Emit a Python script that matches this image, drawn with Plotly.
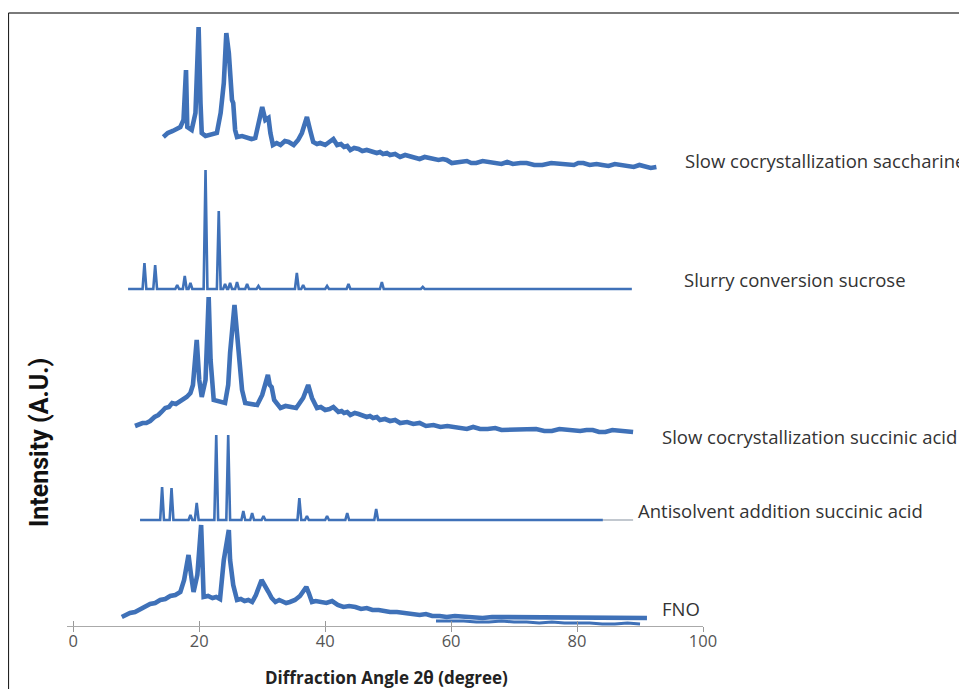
import plotly.graph_objects as go

# ---------------- data (2θ in degrees, intensity in arbitrary stacked units) ----------------
saccharine = [(14.3, 489), (15.0, 493), (15.8, 495), (16.5, 497), (17.0, 499), (17.5, 506), (17.9, 556),
              (18.1, 499), (18.5, 497), (18.8, 496), (19.4, 513), (19.9, 599), (20.2, 523), (20.4, 493),
              (21.0, 490), (21.7, 491), (22.3, 492), (22.8, 493), (23.4, 513), (23.9, 543), (24.3, 593),
              (24.7, 573), (25.2, 526), (25.4, 523), (25.7, 496), (26.0, 489), (26.8, 490), (27.6, 489),
              (28.3, 487), (28.9, 488), (29.6, 506), (30.0, 519), (30.5, 506), (31.0, 508), (31.3, 493),
              (31.7, 481), (32.3, 483), (32.9, 481), (33.6, 485), (34.2, 484), (35.0, 481), (35.7, 486),
              (36.3, 493), (37.1, 509), (37.6, 496), (38.1, 484), (38.7, 482), (39.2, 483), (40.0, 481),
              (40.8, 484), (41.3, 487), (41.9, 481), (42.5, 482), (43.0, 479), (43.5, 480), (44.0, 476),
              (44.6, 478), (45.3, 477), (45.9, 475), (46.6, 476), (47.4, 474), (48.2, 473), (48.7, 474),
              (49.2, 472), (49.8, 473), (50.3, 471), (51.1, 472), (51.9, 469), (52.7, 471), (53.5, 470),
              (54.2, 468), (55.0, 467), (55.8, 469), (56.5, 468), (57.2, 466), (58.0, 466), (58.7, 467),
              (59.3, 466), (60.1, 463), (60.9, 464), (61.7, 465), (62.5, 465), (63.2, 463), (64.0, 463),
              (65.0, 465), (66.0, 464), (67.0, 462), (68.0, 462), (68.9, 464), (69.8, 462), (71.0, 463),
              (72.0, 463), (73.2, 461), (74.5, 461), (75.9, 463), (77.3, 462), (78.4, 461), (79.5, 461),
              (80.2, 463), (81.0, 463), (82.0, 461), (83.1, 462), (84.0, 461), (85.0, 460), (86.0, 462),
              (87.0, 461), (88.0, 460), (89.0, 459), (89.9, 461), (90.8, 460), (91.7, 458), (92.6, 459)]

sucrose_range = (8.7, 88.7)
sucrose_base = 337
sucrose_pos = [11.3, 13.0, 16.5, 17.7, 18.6, 21.0, 23.1, 24.1, 24.9, 26.0, 27.6, 29.4, 35.5, 36.5, 40.3, 43.7, 49.0, 55.5]
sucrose_h = [26, 24, 4, 13, 6, 119, 78, 5, 6, 7, 5, 3, 16, 4, 3, 5, 7, 2]

succinic_slow = [(9.8, 200), (10.4, 202), (11.0, 203), (11.6, 203), (12.2, 205), (12.9, 209), (13.5, 211),
                 (14.0, 214), (14.6, 218), (15.2, 219), (15.7, 223), (16.3, 222), (17.0, 225), (17.5, 227),
                 (18.0, 229), (18.6, 233), (19.0, 241), (19.6, 286), (20.0, 246), (20.4, 229), (21.0, 246),
                 (21.5, 329), (21.8, 266), (22.3, 226), (23.2, 224), (24.1, 223), (24.6, 241), (24.9, 273),
                 (25.6, 321), (26.0, 296), (26.5, 258), (26.8, 236), (27.3, 223), (28.2, 222), (29.2, 221),
                 (30.0, 231), (30.9, 251), (31.2, 241), (31.5, 239), (31.9, 226), (32.9, 218), (33.7, 220),
                 (34.7, 219), (35.4, 218), (36.5, 228), (37.3, 241), (37.9, 228), (38.7, 218), (39.3, 219),
                 (40.0, 216), (40.7, 217), (41.3, 219), (42.1, 214), (42.6, 215), (43.0, 213), (43.5, 214),
                 (44.0, 211), (44.7, 213), (45.3, 212), (46.0, 210), (46.6, 209), (47.1, 210), (47.6, 208),
                 (48.2, 209), (48.7, 206), (49.5, 207), (50.3, 205), (51.1, 206), (51.9, 203), (53.0, 204),
                 (54.0, 202), (55.0, 203), (56.0, 200), (57.2, 201), (58.3, 199), (59.4, 200), (60.5, 199),
                 (61.5, 198), (62.5, 197), (63.5, 199), (64.6, 197), (65.8, 197), (67.0, 198), (68.0, 196),
                 (69.0, 196), (70.0, 197), (71.0, 196), (72.3, 196), (73.5, 197), (74.8, 195), (76.0, 195),
                 (77.2, 197), (78.5, 196), (79.5, 195), (80.5, 195), (81.5, 196), (82.5, 196), (83.5, 194),
                 (84.5, 194), (85.6, 196), (86.7, 195), (87.8, 194), (88.9, 194)]

anti_range = (10.6, 84.1)
anti_tail = (84.1, 88.9)
anti_base = 106
anti_pos = [14.1, 15.6, 18.6, 19.6, 22.7, 24.6, 27.0, 28.4, 30.2, 35.9, 37.1, 40.3, 43.5, 48.1]
anti_h = [33, 32, 5, 17, 85, 85, 9, 7, 4, 22, 4, 4, 7, 11]

fno = [(7.7, 9), (8.4, 11), (9.0, 13), (9.8, 14), (10.6, 17), (11.4, 19), (12.2, 22), (13.0, 23), (13.8, 26),
       (14.6, 27), (15.4, 30), (16.2, 31), (17.0, 34), (17.6, 46), (18.3, 71), (18.7, 51), (19.1, 34),
       (19.7, 51), (20.3, 101), (20.5, 66), (20.7, 29), (21.4, 30), (22.1, 28), (22.7, 29), (23.3, 27),
       (23.9, 66), (24.7, 96), (24.9, 66), (25.2, 48), (25.4, 41), (26.0, 26), (26.6, 27), (27.2, 25),
       (27.8, 26), (28.4, 24), (29.0, 31), (29.9, 46), (30.5, 38), (31.0, 34), (31.5, 28), (32.1, 24),
       (32.7, 26), (33.2, 25), (33.8, 23), (34.4, 24), (35.2, 26), (36.0, 30), (37.0, 39), (37.4, 33),
       (37.9, 24), (38.5, 25), (39.2, 24), (40.2, 23), (41.1, 25), (41.6, 22), (42.0, 21), (42.9, 19),
       (43.8, 20), (44.8, 19), (45.7, 17), (46.6, 18), (47.5, 16), (48.5, 16), (49.4, 15), (50.3, 14),
       (51.4, 14), (52.5, 13), (53.7, 12), (55.0, 11), (56.0, 12), (57.0, 10), (58.2, 10), (59.3, 9),
       (60.6, 10), (62.0, 9), (63.5, 9), (65.0, 8), (66.5, 9), (68.0, 9), (69.5, 8), (71.0, 8), (72.5, 9),
       (74.0, 8), (75.8, 8), (77.5, 9), (79.0, 8), (80.5, 8), (82.0, 9), (83.5, 9), (85.0, 8), (86.5, 8),
       (87.8, 9), (89.0, 8), (90.0, 9), (91.1, 8)]
fno_second = [(57.6, 5), (60.0, 5), (62.0, 5), (64.0, 4), (66.0, 4), (68.0, 5), (70.0, 4), (72.0, 4),
              (74.0, 3), (76.0, 4), (78.0, 3), (80.0, 3), (82.0, 3), (84.0, 2), (86.0, 2), (88.0, 3), (90.0, 2)]

labels = ["Slow cocrystallization saccharine", "Slurry conversion sucrose",
          "Slow cocrystallization succinic acid", "Antisolvent addition succinic acid", "FNO"]
label_x = [96.8, 96.7, 93.2, 89.4, 93.2]
label_y = [466, 347, 190, 116, 18]

x_ticks = [0, 20, 40, 60, 80, 100]
x_title = "Diffraction Angle 2θ (degree)"
y_title = "Intensity (A.U.)"


def stick_pattern(rng, base, pos, h, half=0.3):
    xs, ys = [rng[0]], [base]
    for p, v in zip(pos, h):
        xs += [p - half, p, p + half]
        ys += [base, base + v, base]
    xs.append(rng[1])
    ys.append(base)
    return xs, ys


BLUE = "#3f71b8"
fig = go.Figure()


def add_thick(pairs, width=4.6):
    fig.add_trace(go.Scatter(x=[p[0] for p in pairs], y=[p[1] for p in pairs], mode="lines",
                             line=dict(color=BLUE, width=width), showlegend=False, hoverinfo="skip"))


add_thick(saccharine)
sx, sy = stick_pattern(sucrose_range, sucrose_base, sucrose_pos, sucrose_h)
fig.add_trace(go.Scatter(x=sx, y=sy, mode="lines", line=dict(color=BLUE, width=2.6), showlegend=False))
add_thick(succinic_slow)
ax_, ay_ = stick_pattern(anti_range, anti_base, anti_pos, anti_h)
fig.add_trace(go.Scatter(x=ax_, y=ay_, mode="lines", line=dict(color=BLUE, width=2.6), showlegend=False))
fig.add_trace(go.Scatter(x=list(anti_tail), y=[anti_base, anti_base], mode="lines",
                         line=dict(color="#9aa3b0", width=1.2), showlegend=False))
add_thick(fno_second, 3)
add_thick(fno)

for t, lx, ly in zip(labels, label_x, label_y):
    fig.add_annotation(x=lx, y=ly, text=t, showarrow=False, xanchor="left", yanchor="middle",
                       font=dict(family="Open Sans", size=18.5, color="#333333"))

fig.add_annotation(x=0.5016, y=-0.0835, xref="paper", yref="paper", text="<b>" + x_title + "</b>",
                   showarrow=False, xanchor="center", yanchor="middle",
                   font=dict(family="Open Sans", size=17, color="#222222"))
fig.add_annotation(x=-0.044, y=0.2985, xref="paper", yref="paper", text="<b>" + y_title + "</b>",
                   textangle=-90, showarrow=False, xanchor="center", yanchor="middle",
                   font=dict(family="Roboto, sans-serif", size=25, color="#111111"))

# figure frame
fig.add_shape(type="line", xref="paper", yref="paper", x0=-0.092, x1=1.45, y0=1.0, y1=1.0,
              line=dict(color="#7a7a7a", width=2))
fig.add_shape(type="line", xref="paper", yref="paper", x0=-0.092, x1=-0.092, y0=1.0, y1=-0.2,
              line=dict(color="#222222", width=1.2))

tick_common = dict(range=[-1, 100], overlaying="x", matches="x", anchor="y", side="bottom",
                   tickvals=x_ticks, ticklen=5, tickcolor="#999999", showticklabels=False,
                   showline=False, showgrid=False, zeroline=False)
fig.update_layout(
    width=959, height=681,
    margin=dict(l=59, r=264, t=5, b=63),
    paper_bgcolor="white", plot_bgcolor="white",
    xaxis=dict(range=[-1, 100], tickvals=x_ticks, ticks="",
               showline=True, linecolor="#aaaaaa", linewidth=1.3, showgrid=False, zeroline=False,
               tickfont=dict(family="Open Sans", size=16.5, color="#555555")),
    xaxis2=dict(ticks="inside", **tick_common),
    xaxis3=dict(ticks="outside", **tick_common),
    yaxis=dict(range=[0, 613], visible=False, showgrid=False, zeroline=False),
)
fig.add_trace(go.Scatter(x=[None], y=[None], xaxis="x2", showlegend=False, hoverinfo="skip"))
fig.add_trace(go.Scatter(x=[None], y=[None], xaxis="x3", showlegend=False, hoverinfo="skip"))

fig.write_html("out.html")
